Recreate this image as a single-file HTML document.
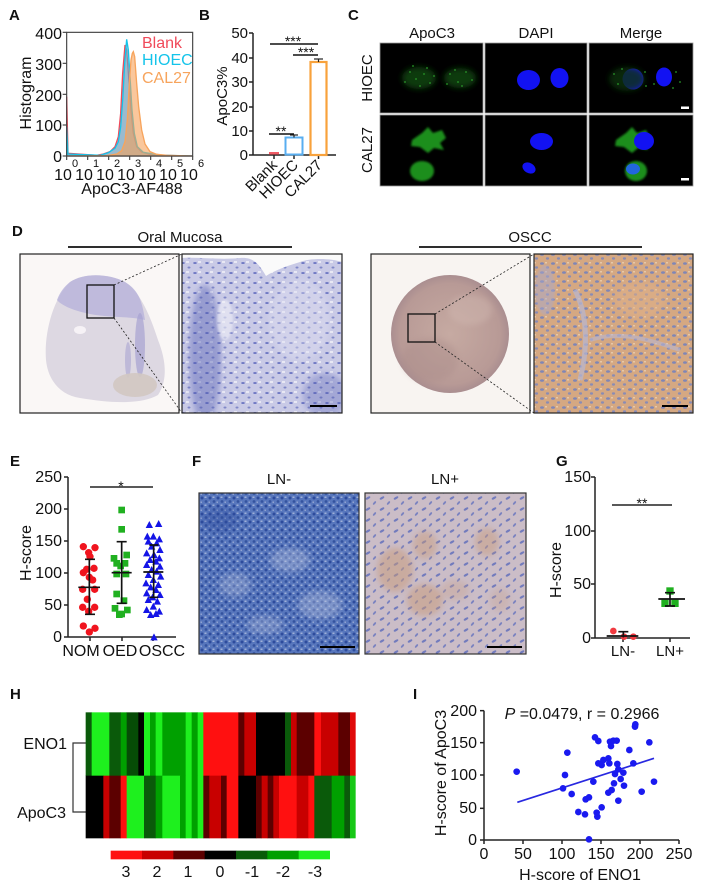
<!DOCTYPE html>
<html><head><meta charset="utf-8">
<style>
html,body{margin:0;padding:0;background:#fff;}
svg{display:block;}
text{font-family:"Liberation Sans",Arial,sans-serif;fill:#111;}
.b{font-weight:bold;font-size:15px;}
.t{font-size:16px;}
.s{font-size:15px;}
</style></head><body>
<svg width="703" height="891" viewBox="0 0 703 891" xmlns="http://www.w3.org/2000/svg">
<defs>
 <pattern id="pD2" width="12" height="10" patternUnits="userSpaceOnUse">
  <rect width="12" height="10" fill="#c9cae6"/>
  <ellipse cx="3" cy="3" rx="1.8" ry="1" fill="#7079c4"/>
  <ellipse cx="9" cy="7.5" rx="1.5" ry="1" fill="#8088c8"/>
  <rect x="6" y="1" width="3" height="2" fill="#e8e8f4"/>
 </pattern>
 <pattern id="pD4" width="11" height="9" patternUnits="userSpaceOnUse">
  <rect width="11" height="9" fill="#d5a882"/>
  <ellipse cx="3" cy="2.5" rx="2" ry="1.3" fill="#7f86b6"/>
  <ellipse cx="8.5" cy="6.5" rx="1.6" ry="1.2" fill="#8a8cb4"/>
  <rect x="6" y="1" width="2" height="1.5" fill="#e6c8a8"/>
 </pattern>
 <pattern id="pF1" width="8" height="8" patternUnits="userSpaceOnUse">
  <rect width="8" height="8" fill="#5877bd"/>
  <circle cx="2" cy="2" r="1.5" fill="#2d4b9c"/>
  <circle cx="6" cy="5.5" r="1.4" fill="#34539f"/>
  <rect x="4.5" y="0.5" width="2" height="1.5" fill="#9fb0d8"/>
  <rect x="0.5" y="5.5" width="1.5" height="1.5" fill="#8fa2d0"/>
 </pattern>
 <pattern id="pF2" width="14" height="11" patternUnits="userSpaceOnUse">
  <rect width="14" height="11" fill="#cbbdc7"/>
  <ellipse cx="4" cy="3" rx="2.6" ry="1.1" fill="#727bbd" transform="rotate(-30 4 3)"/>
  <ellipse cx="10.5" cy="8" rx="2.2" ry="1" fill="#7a82c0" transform="rotate(-50 10.5 8)"/>
 </pattern>
 <radialGradient id="gC" cx="0.5" cy="0.5" r="0.5">
  <stop offset="0" stop-color="#c6aaa2"/>
  <stop offset="0.85" stop-color="#b89a96"/>
  <stop offset="1" stop-color="#aa8e90"/>
 </radialGradient>
 <filter id="bl" x="-50%" y="-50%" width="200%" height="200%"><feGaussianBlur stdDeviation="3"/></filter>
 <filter id="bl1" x="-50%" y="-50%" width="200%" height="200%"><feGaussianBlur stdDeviation="1"/></filter>
 <clipPath id="cD1"><rect x="20" y="254" width="159" height="159"/></clipPath>
 <clipPath id="cD2"><rect x="182" y="254" width="160" height="159"/></clipPath>
 <clipPath id="cD4"><rect x="534" y="254" width="159" height="159"/></clipPath>
 <clipPath id="cF1"><rect x="199" y="493" width="160" height="161"/></clipPath>
 <clipPath id="cF2"><rect x="365" y="493" width="161" height="161"/></clipPath>
</defs>

<!-- ================= A ================= -->
<text class="b" x="9" y="20">A</text>
<g transform="scale(0.33333)">
 <path d="M200,468 L200,290 L204,460 L290,466 L310,462 L330,455 L345,440 L355,410 L362,340 L368,220 L375,135 L380,150 L386,230 L393,330 L400,400 L410,440 L425,456 L450,463 L480,466 L578,468 Z" fill="#f2606e" fill-opacity="0.5" stroke="#f04a5a" stroke-width="4"/>
 <path d="M200,468 L200,380 L204,462 L300,466 L325,458 L345,445 L355,425 L362,380 L368,300 L374,190 L380,118 L385,150 L390,230 L396,330 L403,400 L412,440 L430,457 L460,462 L490,466 L578,468 Z" fill="#3cc6e6" fill-opacity="0.5" stroke="#14c4ea" stroke-width="4"/>
 <path d="M200,468 L320,467 L350,462 L365,452 L375,425 L382,360 L388,250 L393,180 L397,160 L400,155 L404,170 L410,250 L416,320 L425,390 L435,432 L450,455 L470,463 L500,466 L578,468 Z" fill="#f6a25a" fill-opacity="0.6" stroke="#f7a45c" stroke-width="4"/>
 <rect x="200" y="97" width="378" height="371" fill="none" stroke="#444" stroke-width="3.5"/>
 <g stroke="#444" stroke-width="3.5">
  <line x1="188" y1="97" x2="200" y2="97"/><line x1="188" y1="190" x2="200" y2="190"/>
  <line x1="188" y1="283" x2="200" y2="283"/><line x1="188" y1="375" x2="200" y2="375"/>
  <line x1="188" y1="468" x2="200" y2="468"/>
  <line x1="200" y1="468" x2="200" y2="480"/><line x1="263" y1="468" x2="263" y2="480"/>
  <line x1="326" y1="468" x2="326" y2="480"/><line x1="389" y1="468" x2="389" y2="480"/>
  <line x1="452" y1="468" x2="452" y2="480"/><line x1="515" y1="468" x2="515" y2="480"/>
  <line x1="578" y1="468" x2="578" y2="480"/>
 </g>
</g>
<g class="t" text-anchor="end">
 <text x="62" y="39">400</text><text x="62" y="70">300</text><text x="62" y="101">200</text>
 <text x="62" y="131">100</text><text x="62" y="162">0</text>
</g>
<text class="t" transform="translate(31,93) rotate(-90)" text-anchor="middle">Histogram</text>
<g class="t" text-anchor="middle">
 <text x="63" y="180">10</text><text x="84" y="180">10</text><text x="105" y="180">10</text>
 <text x="126" y="180">10</text><text x="147" y="180">10</text><text x="168" y="180">10</text>
 <text x="189" y="180">10</text>
</g>
<g style="font-size:11px">
 <text x="72" y="167">0</text><text x="93" y="167">1</text><text x="114" y="167">2</text>
 <text x="135" y="167">3</text><text x="156" y="167">4</text><text x="177" y="167">5</text>
 <text x="198" y="167">6</text>
</g>
<text class="t" x="132" y="194" text-anchor="middle">ApoC3-AF488</text>
<text class="t" x="142" y="48" style="fill:#f04a5a">Blank</text>
<text class="t" x="142" y="65" style="fill:#14c4ea">HIOEC</text>
<text class="t" x="142" y="83" style="fill:#f7a45c">CAL27</text>

<!-- ================= B ================= -->
<text class="b" x="199" y="20">B</text>
<text class="s" transform="translate(227,96) rotate(-90)" text-anchor="middle">ApoC3%</text>
<g class="s" text-anchor="end">
 <text x="248" y="38">50</text><text x="248" y="63">40</text><text x="248" y="87">30</text>
 <text x="248" y="112">20</text><text x="248" y="136">10</text><text x="248" y="160">0</text>
</g>
<g stroke="#222" stroke-width="1.5">
 <line x1="253" y1="33" x2="253" y2="155"/>
 <line x1="253" y1="155" x2="336" y2="155"/>
 <line x1="249" y1="33" x2="253" y2="33"/><line x1="249" y1="58" x2="253" y2="58"/>
 <line x1="249" y1="82" x2="253" y2="82"/><line x1="249" y1="107" x2="253" y2="107"/>
 <line x1="249" y1="131" x2="253" y2="131"/><line x1="249" y1="155" x2="253" y2="155"/>
 <line x1="274" y1="155" x2="274" y2="159"/><line x1="294" y1="155" x2="294" y2="159"/>
 <line x1="318.5" y1="155" x2="318.5" y2="159"/>
</g>
<rect x="269" y="152" width="10" height="2.5" fill="#f05a64"/>
<rect x="285.5" y="137.5" width="17" height="17" fill="#fff" stroke="#58aef0" stroke-width="2"/>
<line x1="294" y1="135" x2="294" y2="137.5" stroke="#222" stroke-width="1.2"/>
<line x1="290" y1="135" x2="298" y2="135" stroke="#222" stroke-width="1.2"/>
<rect x="310.5" y="62" width="16" height="93" fill="#fff" stroke="#f8a23c" stroke-width="2.2"/>
<line x1="318.5" y1="59" x2="318.5" y2="62" stroke="#222" stroke-width="1.2"/>
<line x1="314" y1="59" x2="323" y2="59" stroke="#222" stroke-width="1.2"/>
<g stroke="#111" stroke-width="1.6">
 <line x1="270" y1="44" x2="318" y2="44"/>
 <line x1="293" y1="55" x2="318" y2="55"/>
 <line x1="269" y1="134" x2="294" y2="134"/>
</g>
<g style="font-size:14px" text-anchor="middle">
 <text x="293" y="46">***</text><text x="306" y="57">***</text><text x="281" y="136">**</text>
</g>
<g class="s" text-anchor="end">
 <text transform="translate(278,166) rotate(-45)">Blank</text>
 <text transform="translate(299,166) rotate(-45)">HIOEC</text>
 <text transform="translate(323,166) rotate(-45)">CAL27</text>
</g>

<!-- ================= C ================= -->
<text class="b" x="348" y="20">C</text>
<g class="s" text-anchor="middle">
 <text x="432" y="38">ApoC3</text><text x="536" y="38">DAPI</text><text x="641" y="38">Merge</text>
</g>
<text class="s" transform="translate(372,78) rotate(-90)" text-anchor="middle">HIOEC</text>
<text class="s" transform="translate(372,150) rotate(-90)" text-anchor="middle">CAL27</text>
<g fill="#000" stroke="#999" stroke-width="0.8">
 <rect x="380" y="43" width="103" height="70"/><rect x="485" y="43" width="102" height="70"/>
 <rect x="589" y="43" width="104" height="70"/>
 <rect x="380" y="115" width="103" height="71"/><rect x="485" y="115" width="102" height="71"/>
 <rect x="589" y="115" width="104" height="71"/>
</g>
<g fill="#2a9a2a">
 <ellipse cx="419" cy="78" rx="17" ry="11" fill="#0c3a0c" filter="url(#bl)"/>
 <ellipse cx="460" cy="78" rx="16" ry="10" fill="#0c3a0c" filter="url(#bl)"/>
 <circle cx="410" cy="72" r="0.9"/><circle cx="416" cy="79" r="0.9"/><circle cx="424" cy="74" r="0.9"/>
 <circle cx="430" cy="83" r="0.9"/><circle cx="405" cy="82" r="0.9"/><circle cx="420" cy="86" r="0.9"/>
 <circle cx="427" cy="68" r="0.9"/><circle cx="434" cy="76" r="0.9"/><circle cx="413" cy="66" r="0.9"/>
 <circle cx="450" cy="74" r="0.9"/><circle cx="458" cy="82" r="0.9"/><circle cx="466" cy="72" r="0.9"/>
 <circle cx="472" cy="80" r="0.9"/><circle cx="455" cy="70" r="0.9"/><circle cx="462" cy="86" r="0.9"/>
 <circle cx="447" cy="84" r="0.9"/>
</g>
<g fill="#1212f2">
 <ellipse cx="528.5" cy="80" rx="11.5" ry="10"/>
 <ellipse cx="559.5" cy="78" rx="9" ry="10"/>
 <ellipse cx="633" cy="79" rx="10.5" ry="10.5"/>
 <ellipse cx="664" cy="77" rx="8" ry="9.5"/>
</g>
<g fill="#2a9a2a">
 <ellipse cx="627" cy="79" rx="18" ry="12" fill="#0a300a" filter="url(#bl)" opacity="0.8"/>
 <circle cx="614" cy="74" r="0.9"/><circle cx="618" cy="84" r="0.9"/><circle cx="645" cy="72" r="0.9"/>
 <circle cx="646" cy="86" r="0.9"/><circle cx="622" cy="69" r="0.9"/>
 <circle cx="676" cy="72" r="0.9"/><circle cx="680" cy="82" r="0.9"/><circle cx="673" cy="88" r="0.9"/>
 <circle cx="654" cy="84" r="0.9"/>
</g>
<g fill="#1c8e1c">
 <path d="M412,140 L422,133 L428,127 L433,133 L442,130 L446,138 L440,143 L444,150 L434,148 L428,153 L420,147 L411,146 Z" filter="url(#bl1)"/>
 <ellipse cx="422" cy="171" rx="12" ry="10" filter="url(#bl1)"/>
 <path d="M616,140 L626,133 L632,127 L637,133 L646,130 L650,138 L644,143 L648,150 L638,148 L632,153 L624,147 L615,146 Z" filter="url(#bl1)"/>
 <ellipse cx="636" cy="171" rx="11" ry="10" filter="url(#bl1)"/>
</g>
<g fill="#1212f2">
 <ellipse cx="541.5" cy="141.5" rx="11.5" ry="8.5"/>
 <ellipse cx="529" cy="168" rx="7" ry="5" transform="rotate(30 529 168)"/>
 <ellipse cx="644" cy="141" rx="10" ry="9"/>
 <ellipse cx="633" cy="169" rx="7" ry="5.5" fill="#2266dd"/>
</g>
<rect x="681" y="106.5" width="8" height="2.5" fill="#fff"/>
<rect x="681" y="178" width="8" height="2.5" fill="#fff"/>

<!-- ================= D ================= -->
<text class="b" x="12" y="236">D</text>
<text class="s" x="180" y="242" text-anchor="middle">Oral Mucosa</text>
<text class="s" x="530" y="242" text-anchor="middle">OSCC</text>
<line x1="68" y1="247" x2="292" y2="247" stroke="#111" stroke-width="1.8"/>
<line x1="419" y1="247" x2="642" y2="247" stroke="#111" stroke-width="1.8"/>
<rect x="20" y="254" width="159" height="159" fill="#faf7f6"/>
<g clip-path="url(#cD1)">
 <path d="M70,282 C85,272 110,274 125,282 C140,292 150,315 158,340 C166,360 168,380 158,395 C140,405 110,403 80,398 C60,395 48,380 46,360 C44,335 52,300 70,282 Z" fill="#ddd8e2"/>
 <path d="M70,282 C85,272 110,274 125,282 C138,290 142,300 145,320 C130,316 110,318 90,314 C75,311 62,306 57,300 C60,292 64,287 70,282Z" fill="#b4b0da" opacity="0.75"/>
 <ellipse cx="140" cy="345" rx="5" ry="32" fill="#a6a2d2" opacity="0.7"/>
 <ellipse cx="128" cy="360" rx="3" ry="18" fill="#b0acd4" opacity="0.7"/>
 <ellipse cx="135" cy="385" rx="22" ry="12" fill="#d2c8c2" opacity="0.9"/>
 <ellipse cx="80" cy="330" rx="6" ry="4" fill="#f6f2f6"/>
</g>
<rect x="20" y="254" width="159" height="159" fill="none" stroke="#222" stroke-width="1.2"/>
<rect x="87" y="285" width="27" height="33" fill="none" stroke="#111" stroke-width="1.3"/>
<g clip-path="url(#cD2)">
 <rect x="182" y="254" width="160" height="159" fill="url(#pD2)"/>
 <ellipse cx="205" cy="355" rx="16" ry="70" fill="#4e58b0" opacity="0.4" filter="url(#bl)"/>
 <ellipse cx="225" cy="320" rx="8" ry="20" fill="#f0f0f8" opacity="0.6" filter="url(#bl1)"/>
 <ellipse cx="325" cy="395" rx="22" ry="22" fill="#4e58b0" opacity="0.3" filter="url(#bl)"/>
 <ellipse cx="300" cy="320" rx="30" ry="40" fill="#e0e0f2" opacity="0.4" filter="url(#bl)"/>
 <path d="M182,254 H342 V262 C330,258 310,258 300,262 C290,265 275,270 266,276 C258,262 252,257 240,258 C220,260 200,257 182,258 Z" fill="#fafafa"/>
</g>
<rect x="182" y="254" width="160" height="159" fill="none" stroke="#222" stroke-width="1.2"/>
<line x1="310" y1="406" x2="337" y2="406" stroke="#000" stroke-width="2"/>
<line x1="114" y1="285" x2="182" y2="254" stroke="#222" stroke-width="0.8" stroke-dasharray="2,2"/>
<line x1="114" y1="318" x2="182" y2="413" stroke="#222" stroke-width="0.8" stroke-dasharray="2,2"/>
<rect x="371" y="254" width="159" height="159" fill="#f8f4f1" stroke="#222" stroke-width="1.2"/>
<circle cx="450" cy="334" r="59" fill="url(#gC)"/>
<ellipse cx="430" cy="360" rx="28" ry="22" fill="#a88a88" opacity="0.35" filter="url(#bl)"/>
<ellipse cx="470" cy="310" rx="22" ry="15" fill="#d4bcb4" opacity="0.4" filter="url(#bl)"/>
<rect x="408" y="314" width="27" height="28" fill="none" stroke="#111" stroke-width="1.3"/>
<line x1="435" y1="314" x2="534" y2="254" stroke="#222" stroke-width="0.8" stroke-dasharray="2,2"/>
<line x1="435" y1="342" x2="534" y2="413" stroke="#222" stroke-width="0.8" stroke-dasharray="2,2"/>
<g clip-path="url(#cD4)">
 <rect x="534" y="254" width="159" height="159" fill="url(#pD4)"/>
 <path d="M575,290 C585,310 590,340 580,380" stroke="#b7b6d2" stroke-width="5" fill="none" opacity="0.7"/>
 <path d="M590,340 C620,330 650,340 680,350" stroke="#b7b6d2" stroke-width="4" fill="none" opacity="0.6"/>
 <ellipse cx="545" cy="290" rx="10" ry="25" fill="#a8a8cc" opacity="0.5" filter="url(#bl1)"/>
 <ellipse cx="640" cy="300" rx="25" ry="18" fill="#e0b088" opacity="0.5" filter="url(#bl)"/>
</g>
<rect x="534" y="254" width="159" height="159" fill="none" stroke="#222" stroke-width="1.2"/>
<line x1="662" y1="406" x2="688" y2="406" stroke="#000" stroke-width="2"/>

<!-- ================= E ================= -->
<text class="b" x="10" y="466">E</text>
<text class="t" transform="translate(31,553) rotate(-90)" text-anchor="middle">H-score</text>
<g class="t" text-anchor="end">
 <text x="62" y="482">250</text><text x="62" y="514">200</text><text x="62" y="546">150</text>
 <text x="62" y="578">100</text><text x="62" y="610">50</text><text x="62" y="642">0</text>
</g>
<g stroke="#222" stroke-width="1.5">
 <line x1="68" y1="477" x2="68" y2="637"/><line x1="68" y1="637" x2="176" y2="637"/>
 <line x1="64" y1="477" x2="68" y2="477"/><line x1="64" y1="509" x2="68" y2="509"/>
 <line x1="64" y1="541" x2="68" y2="541"/><line x1="64" y1="573" x2="68" y2="573"/>
 <line x1="64" y1="605" x2="68" y2="605"/><line x1="64" y1="637" x2="68" y2="637"/>
 <line x1="90" y1="637" x2="90" y2="641"/><line x1="122" y1="637" x2="122" y2="641"/>
 <line x1="153" y1="637" x2="153" y2="641"/>
 <line x1="90" y1="487" x2="153" y2="487" stroke-width="1.6"/>
</g>
<text x="121" y="491" text-anchor="middle" style="font-size:14px">*</text>
<g class="t" text-anchor="middle">
 <text x="81" y="656">NOM</text><text x="120" y="656">OED</text><text x="162" y="656">OSCC</text>
</g>
<g transform="translate(0,500) scale(0.33333)">
 <g fill="#f0141e">
  <circle cx="250" cy="140" r="11"/><circle cx="285" cy="143" r="11"/><circle cx="266" cy="158" r="11"/>
  <circle cx="270" cy="170" r="11"/><circle cx="282" cy="205" r="11"/><circle cx="260" cy="208" r="11"/>
  <circle cx="250" cy="218" r="11"/><circle cx="268" cy="232" r="11"/><circle cx="278" cy="240" r="11"/>
  <circle cx="248" cy="268" r="11"/><circle cx="284" cy="268" r="11"/><circle cx="262" cy="298" r="11"/>
  <circle cx="248" cy="322" r="11"/><circle cx="284" cy="322" r="11"/><circle cx="266" cy="334" r="11"/>
  <circle cx="250" cy="378" r="11"/><circle cx="285" cy="385" r="11"/><circle cx="268" cy="396" r="11"/>
 </g>
 <g fill="#20b020">
  <rect x="355" y="20" width="20" height="20"/><rect x="355" y="78" width="20" height="20"/>
  <rect x="332" y="165" width="20" height="20"/><rect x="370" y="155" width="20" height="20"/>
  <rect x="340" y="180" width="20" height="20"/><rect x="365" y="180" width="20" height="20"/>
  <rect x="352" y="188" width="20" height="20"/><rect x="340" y="212" width="20" height="20"/>
  <rect x="368" y="212" width="20" height="20"/><rect x="340" y="272" width="20" height="20"/>
  <rect x="362" y="292" width="20" height="20"/><rect x="335" y="315" width="20" height="20"/>
  <rect x="355" y="332" width="20" height="20"/><rect x="372" y="320" width="20" height="20"/>
  <rect x="348" y="334" width="20" height="20"/>
 </g>
 <g fill="#1414e6">
  <path d="M448,63 l-11,21 h22z M476,60 l-11,21 h22z M442,98 l-11,21 h22z M460,98 l-11,21 h22z M478,106 l-11,21 h22z M445,113 l-11,21 h22z M470,118 l-11,21 h22z M455,128 l-11,21 h22z M480,138 l-11,21 h22z M440,148 l-11,21 h22z M462,153 l-11,21 h22z M478,163 l-11,21 h22z M450,168 l-11,21 h22z M468,173 l-11,21 h22z M440,183 l-11,21 h22z M480,188 l-11,21 h22z M455,198 l-11,21 h22z M470,203 l-11,21 h22z M445,213 l-11,21 h22z M482,218 l-11,21 h22z M460,228 l-11,21 h22z M438,238 l-11,21 h22z M475,243 l-11,21 h22z M452,250 l-11,21 h22z M468,258 l-11,21 h22z M440,268 l-11,21 h22z M480,273 l-11,21 h22z M458,280 l-11,21 h22z M445,288 l-11,21 h22z M472,293 l-11,21 h22z M460,308 l-11,21 h22z M440,318 l-11,21 h22z M478,323 l-11,21 h22z M452,333 l-11,21 h22z M468,330 l-11,21 h22z M462,400 l-11,21 h22z"/>
 </g>
 <g stroke="#111" stroke-width="5" fill="none">
  <path d="M235,262 H300 M268,178 V343 M255,178 H285 M255,343 H285"/>
  <path d="M335,218 H395 M365,125 V310 M350,125 H380 M350,310 H380"/>
  <path d="M430,216 H490 M461,135 V292 M448,135 H475 M448,292 H475"/>
 </g>
</g>

<!-- ================= F ================= -->
<text class="b" x="192" y="466">F</text>
<text class="s" x="279" y="484" text-anchor="middle">LN-</text>
<text class="s" x="445" y="484" text-anchor="middle">LN+</text>
<g clip-path="url(#cF1)">
 <rect x="199" y="493" width="160" height="161" fill="url(#pF1)"/>
 <ellipse cx="290" cy="560" rx="20" ry="12" fill="#b8c2de" opacity="0.4" filter="url(#bl)"/>
 <ellipse cx="320" cy="605" rx="22" ry="14" fill="#b8c2de" opacity="0.4" filter="url(#bl)"/>
 <ellipse cx="235" cy="585" rx="16" ry="12" fill="#b8c2de" opacity="0.35" filter="url(#bl)"/>
 <ellipse cx="265" cy="625" rx="18" ry="9" fill="#b8c2de" opacity="0.35" filter="url(#bl)"/>
 <ellipse cx="220" cy="520" rx="18" ry="12" fill="#2d4b9c" opacity="0.35" filter="url(#bl)"/>
</g>
<rect x="199" y="493" width="160" height="161" fill="none" stroke="#333" stroke-width="1.2"/>
<line x1="320" y1="647" x2="355" y2="647" stroke="#000" stroke-width="2"/>
<g clip-path="url(#cF2)">
 <rect x="365" y="493" width="161" height="161" fill="url(#pF2)"/>
 <ellipse cx="395" cy="570" rx="18" ry="22" fill="#c99a78" opacity="0.5" filter="url(#bl)"/>
 <ellipse cx="425" cy="600" rx="18" ry="16" fill="#c99a78" opacity="0.5" filter="url(#bl)"/>
 <ellipse cx="425" cy="545" rx="12" ry="14" fill="#c99a78" opacity="0.45" filter="url(#bl)"/>
 <ellipse cx="487" cy="542" rx="12" ry="14" fill="#c99a78" opacity="0.45" filter="url(#bl)"/>
 <ellipse cx="455" cy="590" rx="14" ry="10" fill="#c9a088" opacity="0.35" filter="url(#bl)"/>
 <ellipse cx="500" cy="600" rx="10" ry="12" fill="#c9a088" opacity="0.3" filter="url(#bl)"/>
</g>
<rect x="365" y="493" width="161" height="161" fill="none" stroke="#333" stroke-width="1.2"/>
<line x1="487" y1="647" x2="522" y2="647" stroke="#000" stroke-width="2"/>

<!-- ================= G ================= -->
<text class="b" x="556" y="466">G</text>
<text class="t" transform="translate(561,570) rotate(-90)" text-anchor="middle">H-score</text>
<g class="t" text-anchor="end">
 <text x="591" y="482">150</text><text x="591" y="536">100</text><text x="591" y="589">50</text><text x="591" y="643">0</text>
</g>
<g stroke="#222" stroke-width="1.5">
 <line x1="595" y1="477" x2="595" y2="638"/><line x1="595" y1="638" x2="690" y2="638"/>
 <line x1="591" y1="477" x2="595" y2="477"/><line x1="591" y1="531" x2="595" y2="531"/>
 <line x1="591" y1="584" x2="595" y2="584"/><line x1="591" y1="638" x2="595" y2="638"/>
 <line x1="623" y1="638" x2="623" y2="642"/><line x1="670" y1="638" x2="670" y2="642"/>
 <line x1="612" y1="505" x2="672" y2="505" stroke-width="1.6"/>
</g>
<text x="642" y="508" text-anchor="middle" style="font-size:14px">**</text>
<g class="s" text-anchor="middle">
 <text x="623" y="656">LN-</text><text x="670" y="656">LN+</text>
</g>
<g transform="translate(230,500) scale(0.33333)">
 <g fill="#f03a40"><circle cx="1150" cy="393" r="10"/><circle cx="1182" cy="410" r="10"/><circle cx="1210" cy="410" r="10"/></g>
 <g fill="#20b020"><rect x="1309" y="262" width="22" height="22"/><rect x="1294" y="299" width="22" height="22"/><rect x="1324" y="299" width="22" height="22"/></g>
 <g stroke="#111" stroke-width="5" fill="none">
  <path d="M1130,408 H1225 M1180,395 V412 M1165,395 H1195"/>
  <path d="M1285,297 H1365 M1320,278 V318 M1305,278 H1335 M1305,318 H1335"/>
 </g>
</g>

<!-- ================= H ================= -->
<text class="b" x="10" y="699">H</text>
<text class="t" x="67" y="749" text-anchor="end">ENO1</text>
<text class="t" x="66" y="818" text-anchor="end">ApoC3</text>
<path d="M86,743 H73 V812 H86" fill="none" stroke="#333" stroke-width="1.2"/>
<g transform="translate(0,680) scale(0.33333)">
 <g transform="translate(0,97)">
  <rect x="257" width="19" height="191" fill="#0a5a0a"/>
  <rect x="275" width="54" height="191" fill="#1ef01e"/>
  <rect x="328" width="35" height="191" fill="#0a5a0a"/>
  <rect x="362" width="19" height="191" fill="#00a000"/>
  <rect x="380" width="36" height="191" fill="#064c06"/>
  <rect x="415" width="18" height="191" fill="#000"/>
  <rect x="432" width="19" height="191" fill="#1ef01e"/>
  <rect x="450" width="18" height="191" fill="#00a000"/>
  <rect x="467" width="21" height="191" fill="#1ef01e"/>
  <rect x="487" width="71" height="191" fill="#00a000"/>
  <rect x="557" width="19" height="191" fill="#1ef01e"/>
  <rect x="575" width="19" height="191" fill="#00a000"/>
  <rect x="593" width="18" height="191" fill="#1ef01e"/>
  <rect x="610" width="106" height="191" fill="#ff1010"/>
  <rect x="715" width="19" height="191" fill="#5c0000"/>
  <rect x="733" width="36" height="191" fill="#c80000"/>
  <rect x="768" width="88" height="191" fill="#000"/>
  <rect x="855" width="19" height="191" fill="#0a5a0a"/>
  <rect x="873" width="18" height="191" fill="#c80000"/>
  <rect x="890" width="54" height="191" fill="#5c0000"/>
  <rect x="943" width="21" height="191" fill="#ff1010"/>
  <rect x="963" width="53" height="191" fill="#c80000"/>
  <rect x="1015" width="36" height="191" fill="#5c0000"/>
  <rect x="1050" width="17" height="191" fill="#e00a0a"/>
 </g>
 <g transform="translate(0,287)">
  <rect x="257" width="54" height="188" fill="#000"/>
  <rect x="310" width="19" height="188" fill="#c80000"/>
  <rect x="328" width="35" height="188" fill="#5c0000"/>
  <rect x="362" width="19" height="188" fill="#ff1010"/>
  <rect x="380" width="53" height="188" fill="#1ef01e"/>
  <rect x="432" width="36" height="188" fill="#0a5a0a"/>
  <rect x="467" width="21" height="188" fill="#00a000"/>
  <rect x="487" width="54" height="188" fill="#1ef01e"/>
  <rect x="540" width="18" height="188" fill="#00a000"/>
  <rect x="557" width="19" height="188" fill="#1ef01e"/>
  <rect x="575" width="19" height="188" fill="#00a000"/>
  <rect x="593" width="18" height="188" fill="#1ef01e"/>
  <rect x="610" width="19" height="188" fill="#5c0000"/>
  <rect x="628" width="36" height="188" fill="#c80000"/>
  <rect x="663" width="18" height="188" fill="#5c0000"/>
  <rect x="680" width="36" height="188" fill="#ff1010"/>
  <rect x="715" width="54" height="188" fill="#000"/>
  <rect x="768" width="18" height="188" fill="#5c0000"/>
  <rect x="785" width="19" height="188" fill="#c80000"/>
  <rect x="803" width="18" height="188" fill="#5c0000"/>
  <rect x="820" width="18" height="188" fill="#c80000"/>
  <rect x="837" width="54" height="188" fill="#ff1010"/>
  <rect x="890" width="36" height="188" fill="#c80000"/>
  <rect x="925" width="19" height="188" fill="#ff1010"/>
  <rect x="943" width="53" height="188" fill="#0a5a0a"/>
  <rect x="995" width="39" height="188" fill="#00a000"/>
  <rect x="1033" width="18" height="188" fill="#0a5a0a"/>
  <rect x="1050" width="17" height="188" fill="#16c816"/>
 </g>
 <g transform="translate(0,512)">
  <rect x="332" width="95" height="26" fill="#ff1010"/>
  <rect x="426" width="95" height="26" fill="#c80000"/>
  <rect x="520" width="95" height="26" fill="#5c0000"/>
  <rect x="614" width="95" height="26" fill="#000"/>
  <rect x="708" width="95" height="26" fill="#0a5a0a"/>
  <rect x="802" width="95" height="26" fill="#00a000"/>
  <rect x="896" width="94" height="26" fill="#1ef01e"/>
 </g>
</g>
<g class="t" text-anchor="middle">
 <text x="126" y="877">3</text><text x="157" y="877">2</text><text x="188" y="877">1</text>
 <text x="220" y="877">0</text><text x="252" y="877">-1</text><text x="283" y="877">-2</text>
 <text x="315" y="877">-3</text>
</g>

<!-- ================= I ================= -->
<text class="b" x="413" y="699">I</text>
<text class="t" x="582" y="719" text-anchor="middle"><tspan font-style="italic">P</tspan> =0.0479, r = 0.2966</text>
<text class="t" transform="translate(446,773) rotate(-90)" text-anchor="middle">H-score of ApoC3</text>
<text class="t" x="580" y="880" text-anchor="middle">H-score of ENO1</text>
<g class="t" text-anchor="end">
 <text x="477" y="716">200</text><text x="477" y="748">150</text><text x="477" y="780">100</text>
 <text x="477" y="813">50</text><text x="477" y="845">0</text>
</g>
<g class="t" text-anchor="middle">
 <text x="484" y="859">0</text><text x="523" y="859">50</text><text x="562" y="859">100</text>
 <text x="601" y="859">150</text><text x="640" y="859">200</text><text x="679" y="859">250</text>
</g>
<g transform="translate(380,680) scale(0.33333)">
 <g stroke="#222" stroke-width="4.5">
  <line x1="312" y1="92" x2="312" y2="480"/><line x1="312" y1="480" x2="897" y2="480"/>
  <line x1="300" y1="92" x2="312" y2="92"/><line x1="300" y1="188" x2="312" y2="188"/>
  <line x1="300" y1="285" x2="312" y2="285"/><line x1="300" y1="385" x2="312" y2="385"/>
  <line x1="300" y1="480" x2="312" y2="480"/>
  <line x1="312" y1="480" x2="312" y2="492"/><line x1="429" y1="480" x2="429" y2="492"/>
  <line x1="546" y1="480" x2="546" y2="492"/><line x1="663" y1="480" x2="663" y2="492"/>
  <line x1="780" y1="480" x2="780" y2="492"/><line x1="897" y1="480" x2="897" y2="492"/>
 </g>
 <line x1="412" y1="367" x2="822" y2="235" stroke="#2828e0" stroke-width="5"/>
 <g fill="#1a1af0">
  <circle cx="410" cy="275" r="10"/><circle cx="562" cy="218" r="10"/><circle cx="555" cy="285" r="10"/>
  <circle cx="549" cy="325" r="10"/><circle cx="575" cy="342" r="10"/><circle cx="595" cy="396" r="10"/>
  <circle cx="615" cy="403" r="10"/><circle cx="617" cy="358" r="10"/><circle cx="627" cy="352" r="10"/>
  <circle cx="640" cy="305" r="10"/><circle cx="645" cy="172" r="10"/><circle cx="655" cy="183" r="10"/>
  <circle cx="655" cy="250" r="10"/><circle cx="665" cy="255" r="10"/><circle cx="670" cy="240" r="10"/>
  <circle cx="627" cy="478" r="10"/><circle cx="650" cy="398" r="10"/><circle cx="665" cy="382" r="10"/>
  <circle cx="652" cy="410" r="10"/><circle cx="685" cy="235" r="10"/><circle cx="688" cy="250" r="10"/>
  <circle cx="690" cy="185" r="10"/><circle cx="693" cy="198" r="10"/><circle cx="700" cy="182" r="10"/>
  <circle cx="710" cy="182" r="10"/><circle cx="685" cy="338" r="10"/><circle cx="695" cy="330" r="10"/>
  <circle cx="702" cy="310" r="10"/><circle cx="705" cy="282" r="10"/><circle cx="712" cy="252" r="10"/>
  <circle cx="715" cy="268" r="10"/><circle cx="722" cy="297" r="10"/><circle cx="730" cy="278" r="10"/>
  <circle cx="732" cy="317" r="10"/><circle cx="715" cy="362" r="10"/><circle cx="765" cy="140" r="10"/>
  <circle cx="766" cy="133" r="10"/><circle cx="748" cy="210" r="10"/><circle cx="760" cy="250" r="10"/>
  <circle cx="808" cy="187" r="10"/><circle cx="785" cy="335" r="10"/><circle cx="822" cy="305" r="10"/>
 </g>
</g>
</svg>
</body></html>
